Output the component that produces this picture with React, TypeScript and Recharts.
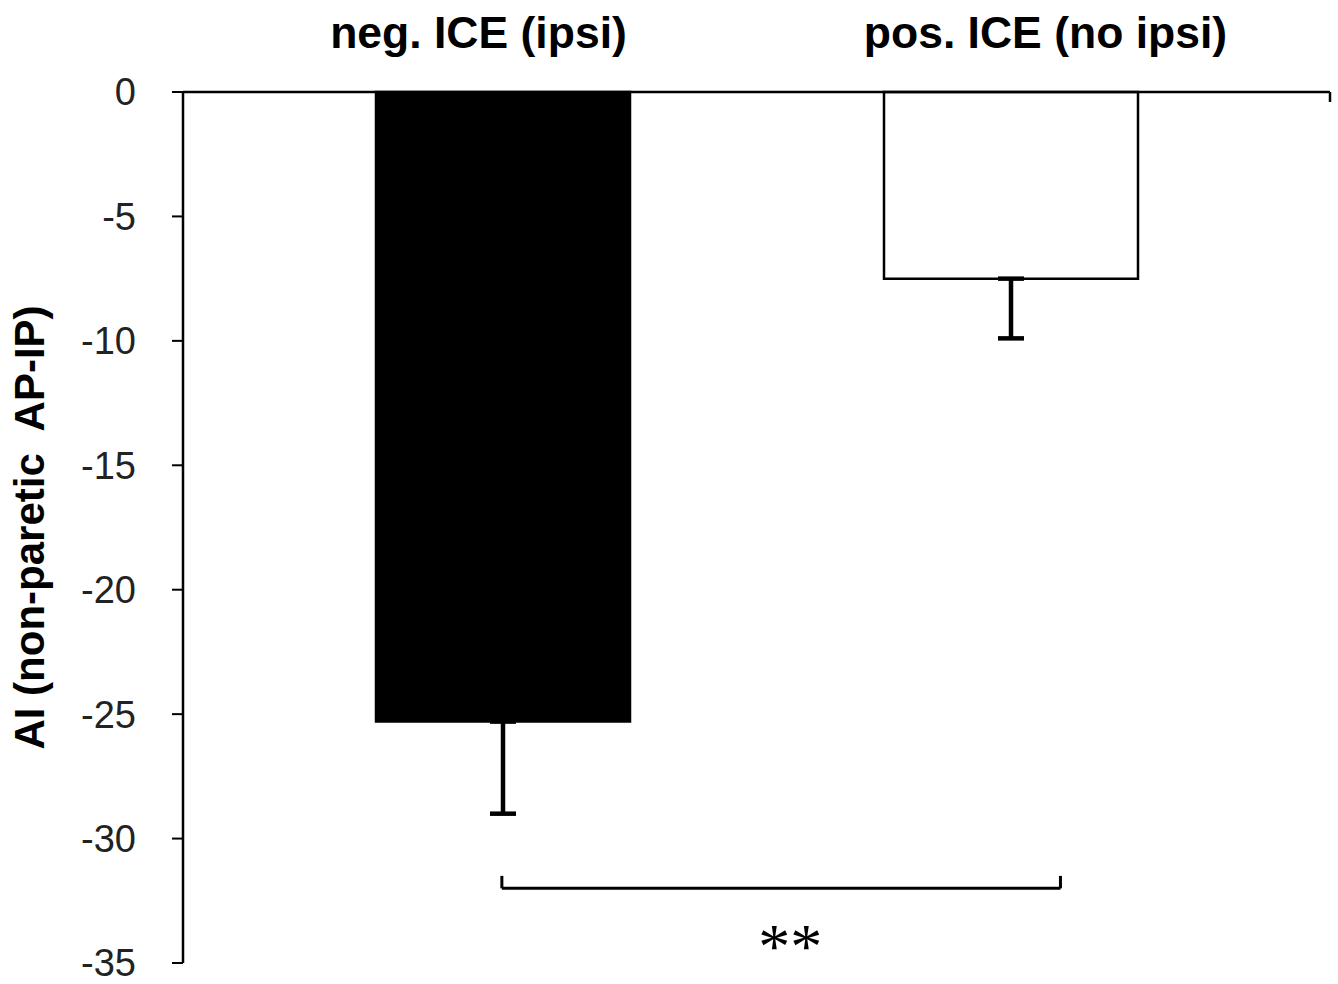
import { ComposedChart, Bar, Cell, XAxis, YAxis, ErrorBar, ReferenceLine } from "recharts";

const groups = ["neg. ICE (ipsi)", "pos. ICE (no ipsi)"];
const means = [-25.3, -7.5];
const sems = [3.7, 2.4];
const yTicks = [0, -5, -10, -15, -20, -25, -30, -35];
const barFills = ["#000000", "#ffffff"];

// significance bracket, in % of plot width / data units
const bracketFrom = 27.8;
const bracketTo = 76.5;
const bracketY = -32;
const bracketTipY = -31.5;

const data = groups.map((g, i) => ({ group: g, mean: means[i], err: [sems[i], 0] }));

const sans = "'Liberation Sans', Arial, sans-serif";

export default function App() {
  return (
    <div style={{ position: "absolute", left: 0, top: 0, background: "#fff" }}>
      <ComposedChart
        width={1338}
        height={984}
        data={data}
        barCategoryGap="25%"
        margin={{ top: 32, right: 8, bottom: 21, left: 0 }}
      >
        <XAxis
          xAxisId="labels"
          dataKey="group"
          orientation="top"
          height={60}
          padding={{ left: 12, right: 1 }}
          axisLine={{ stroke: "#000", strokeWidth: 2.5 }}
          tickLine={false}
          tickSize={0}
          tickMargin={44}
          tick={{ fontSize: 44.5, fontWeight: 700, fontFamily: sans, fill: "#000" }}
        />
        <XAxis xAxisId="bars" dataKey="group" hide padding={{ left: 66, right: 65 }} />
        <XAxis xAxisId="ann" dataKey="mean" type="number" hide domain={[0, 100]} allowDataOverflow />
        <YAxis
          width={183}
          domain={[-35, 0]}
          ticks={yTicks}
          interval={0}
          axisLine={{ stroke: "#000", strokeWidth: 2.5 }}
          tickLine={{ stroke: "#000", strokeWidth: 2 }}
          tickSize={11}
          tickMargin={36}
          tick={{ fontSize: 38, fontFamily: sans, fill: "#222" }}
          label={{
            value: "AI (non-paretic\u00a0 AP-IP)",
            angle: -90,
            position: "center",
            dx: -62,
            style: { fontSize: 42, fontWeight: 700, fontFamily: sans, fill: "#000" },
          }}
        />
        <Bar xAxisId="bars" dataKey="mean" stroke="#000" strokeWidth={2.5} isAnimationActive={false}>
          {data.map((d, i) => (
            <Cell key={d.group} fill={barFills[i]} />
          ))}
          <ErrorBar dataKey="err" direction="y" width={13} stroke="#000" strokeWidth={4.5} />
        </Bar>
        <ReferenceLine
          xAxisId="ann"
          ifOverflow="visible"
          segment={[{ x: 100, y: 0 }, { x: 100, y: -0.4 }]}
          stroke="#000"
          strokeWidth={2.5}
        />
        <ReferenceLine
          xAxisId="ann"
          ifOverflow="visible"
          segment={[{ x: bracketFrom, y: bracketY }, { x: bracketTo, y: bracketY }]}
          stroke="#000"
          strokeWidth={3}
          label={{ value: "**", position: "bottom", offset: 34, dx: 9, style: { fontSize: 64, fontFamily: "'Liberation Serif', serif", fill: "#000" } }}
        />
        <ReferenceLine
          xAxisId="ann"
          ifOverflow="visible"
          segment={[{ x: bracketFrom, y: bracketY }, { x: bracketFrom, y: bracketTipY }]}
          stroke="#000"
          strokeWidth={3}
        />
        <ReferenceLine
          xAxisId="ann"
          ifOverflow="visible"
          segment={[{ x: bracketTo, y: bracketY }, { x: bracketTo, y: bracketTipY }]}
          stroke="#000"
          strokeWidth={3}
        />
      </ComposedChart>
    </div>
  );
}
